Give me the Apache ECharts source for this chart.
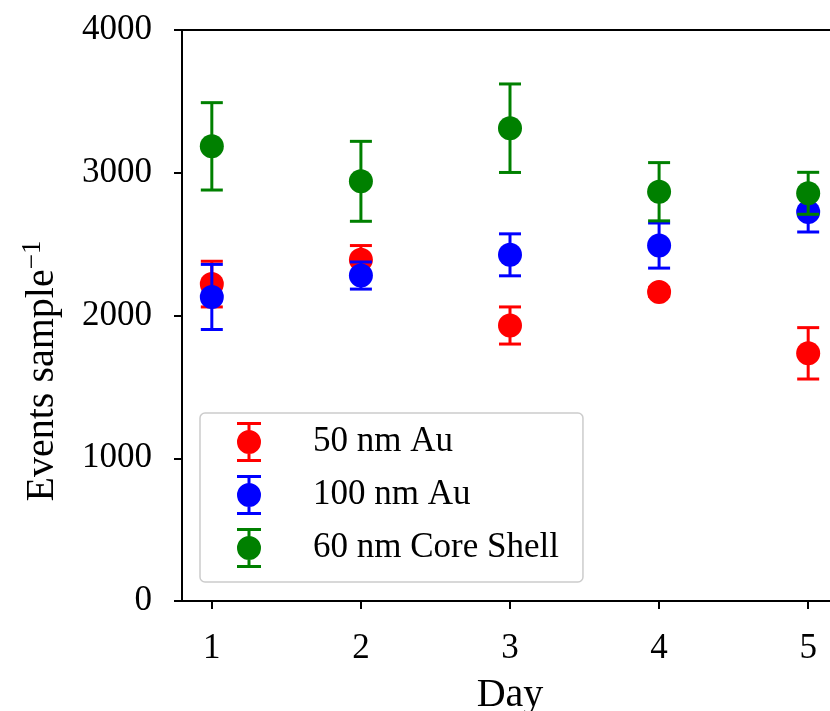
<!DOCTYPE html>
<html>
<head>
<meta charset="utf-8">
<script src="https://cdn.jsdelivr.net/npm/echarts@6/dist/echarts.min.js"></script>
<style>
  html, body { margin: 0; padding: 0; background: #fff; }
  #chart { width: 830px; height: 711px; }
</style>
</head>
<body>
<div id="chart"></div>
<script>
const days = [1, 2, 3, 4, 5];
const dayTicks = [1, 2, 3, 4, 5];
const yTicks = [0, 1000, 2000, 3000, 4000];

const names = ['50 nm Au', '100 nm Au', '60 nm Core Shell'];
const colors = ['#ff0000', '#0000ff', '#008000'];

const au50 = [2220, 2390, 1930, 2165, 1735];
const au50Err = [160, 100, 130, 30, 180];
const au100 = [2130, 2280, 2425, 2490, 2725];
const au100Err = [228, 95, 147, 158, 140];
const coreShell = [3185, 2940, 3312, 2867, 2856];
const coreShellErr = [306, 280, 310, 204, 147];

const means = [au50, au100, coreShell];
const errs = [au50Err, au100Err, coreShellErr];

const FONT = 'Liberation Serif';

// error bar glyph for the legend: caps + stem + dot
const ebIcon = 'path://M0,0 L24,0 L24,3 L0,3 Z M10.5,0 L13.5,0 L13.5,40 L10.5,40 Z ' +
  'M0,37 L24,37 L24,40 L0,40 Z M0,20 A12,12 0 1,1 24,20 A12,12 0 1,1 0,20 Z';

const chart = echarts.init(document.getElementById('chart'));

const series = [];
names.forEach((name, i) => {
  const errData = days.map((d, k) => [d, means[i][k] - errs[i][k], means[i][k] + errs[i][k]]);
  series.push({
    name: name,
    type: 'custom',
    z: 2 + i * 2,
    data: errData,
    renderItem: function (params, api) {
      const lo = api.coord([api.value(0), api.value(1)]);
      const hi = api.coord([api.value(0), api.value(2)]);
      const hw = 11;
      const st = { stroke: colors[i], lineWidth: 3 };
      return {
        type: 'group',
        children: [
          { type: 'line', shape: { x1: lo[0], y1: lo[1], x2: hi[0], y2: hi[1] }, style: st },
          { type: 'line', shape: { x1: lo[0] - hw, y1: lo[1], x2: lo[0] + hw, y2: lo[1] }, style: st },
          { type: 'line', shape: { x1: hi[0] - hw, y1: hi[1], x2: hi[0] + hw, y2: hi[1] }, style: st }
        ]
      };
    },
    itemStyle: { color: colors[i] },
    silent: true
  });
  series.push({
    name: name,
    type: 'scatter',
    z: 3 + i * 2,
    symbol: 'circle',
    symbolSize: 24,
    itemStyle: { color: colors[i], opacity: 1 },
    data: days.map((d, k) => [d, means[i][k]])
  });
});

chart.setOption({
  animation: false,
  backgroundColor: '#ffffff',
  // plot runs to x=5.2, which lies a few px past the picture's right edge
  grid: { left: 182, right: -8, top: 30, bottom: 110, outerBoundsMode: 'none', containLabel: false },
  legend: {
    orient: 'vertical',
    left: 200, top: 413,
    padding: [9, 24, 14, 37],
    itemWidth: 24, itemHeight: 40,
    itemGap: 13,
    backgroundColor: 'rgba(255,255,255,0.8)',
    borderColor: '#cccccc', borderWidth: 1.5, borderRadius: 5,
    textStyle: { fontFamily: FONT, fontSize: 35, color: '#000', padding: [0, 0, 0, 47] },
    data: names.map(n => ({ name: n, icon: ebIcon }))
  },
  xAxis: [{
    type: 'value',
    min: 0.8, max: 5.2,
    name: 'Day',
    nameLocation: 'middle',
    nameGap: 74,
    nameTextStyle: { fontFamily: FONT, fontSize: 40, color: '#000' },
    axisLine: { show: true, onZero: false, lineStyle: { color: '#000', width: 2 } },
    axisTick: { show: true, length: 8, lineStyle: { color: '#000', width: 2 }, customValues: dayTicks },
    axisLabel: { fontFamily: FONT, fontSize: 35, color: '#000', margin: 30, customValues: dayTicks },
    splitLine: { show: false }
  }, {
    type: 'value',
    position: 'top',
    min: 0.8, max: 5.2,
    axisLine: { show: true, onZero: false, lineStyle: { color: '#000', width: 2 } },
    axisTick: { show: false },
    axisLabel: { show: false },
    splitLine: { show: false }
  }],
  yAxis: {
    type: 'value',
    min: 0, max: 4000, interval: 1000,
    axisLine: { show: true, lineStyle: { color: '#000', width: 2 } },
    axisTick: { show: true, length: 8, lineStyle: { color: '#000', width: 2 } },
    axisLabel: { fontFamily: FONT, fontSize: 35, color: '#000', margin: 30,
      formatter: v => (yTicks.indexOf(v) >= 0 ? String(v) : '') },
    splitLine: { show: false }
  },
  graphic: [{
    type: 'text',
    x: 42, y: 371,
    rotation: Math.PI / 2,
    style: {
      text: 'Events sample{sup|−1}',
      fontFamily: FONT, fontSize: 40, fill: '#000',
      align: 'center', verticalAlign: 'middle',
      rich: { sup: { fontFamily: FONT, fontSize: 27, fill: '#000', verticalAlign: 'top', padding: [0, 0, 18, 0] } }
    }
  }],
  series: series
});
</script>
</body>
</html>
